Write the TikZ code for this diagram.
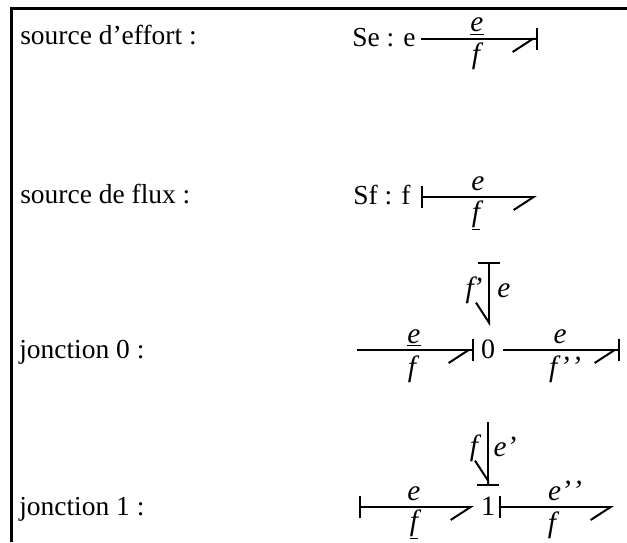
\documentclass[tikz,border=0pt]{standalone}
\usepackage{fontspec}
\setmainfont{Liberation Serif}
\usetikzlibrary{arrows.meta}
\tikzset{
  lbl/.style={anchor=base west,inner sep=0pt,font=\fontsize{20.6}{24}\selectfont},
  var/.style={anchor=base,inner sep=0pt,font=\fontsize{22}{24}\selectfont\itshape},
  jct/.style={anchor=base,inner sep=0pt,font=\fontsize{21}{24}\selectfont},
  bond/.style={line width=1.5pt},
  flowbar/.style={bond,{Bar[width=17pt,line width=1.5pt]}-{Straight Barb[right,length=15pt,width=19.5pt,line width=1.5pt]}},
  effbar/.style={bond,-{Straight Barb[right,length=15pt,width=19.5pt,line width=1.5pt]Bar[width=17pt,line width=1.5pt]}},
}
\begin{document}
\begin{tikzpicture}[x=0.75pt,y=-0.75pt]
  \useasboundingbox (0,0) rectangle (627,542);
  \coordinate (corner) at (11.5,8.5);
  \coordinate (top) at (627,8.5);
  \coordinate (bottom) at (11.5,542);
  \draw[line width=1.8pt] (bottom) -- (corner) -- (top);

  \node[lbl] (t1) at (20,45) {source d’effort :};
  \node[lbl] (t2) at (20,203) {source de flux :};
  \node[lbl] (t3) at (19,358) {jonction 0 :};
  \node[lbl] (t4) at (19,515) {jonction 1 :};

  % sources
  \node[lbl] (se) at (352,46) {Se : e};
  \coordinate (se1) at (421,39);
  \coordinate (se2) at (538,39);
  \draw[effbar] (se1) -- (se2);
  \node[var] (see) at (477,32) {\underline{e}};
  \node[var] (sef) at (476,64) {f};

  \node[lbl] (sf) at (353,204) {Sf : f};
  \coordinate (sf1) at (421,197);
  \coordinate (sf2) at (537,197);
  \draw[flowbar] (sf1) -- (sf2);
  \node[var] (sfe) at (478,190) {e};
  \node[var] (sff) at (476,221) {\underline{f}};

  % jonction 0
  \node[jct] (zero) at (488,358) {0};
  \coordinate (za) at (357,350);
  \coordinate (zb) at (474,350);
  \coordinate (zc) at (503,350);
  \coordinate (zd) at (620,350);
  \coordinate (ze) at (489,262);
  \coordinate (zf) at (489,326);
  \draw[effbar] (za) -- (zb);
  \draw[effbar] (zc) -- (zd);
  \draw[flowbar] (ze) -- (zf);
  \node[var] (z1) at (414,343) {\underline{e}};
  \node[var] (z2) at (412,376) {f};
  \node[var] (z3) at (560,343) {e};
  \node[var] (z4) at (565,376) {f’\kern1pt’};
  \node[var] (z5) at (474,297) {f\kern-1pt’};
  \node[var] (z6) at (504,297) {e};

  % jonction 1
  \node[jct] (one) at (488,515) {1};
  \coordinate (oa) at (359,507);
  \coordinate (ob) at (474,507);
  \coordinate (oc) at (499,507);
  \coordinate (od) at (614,507);
  \coordinate (oe) at (488,422);
  \coordinate (of) at (488,486);
  \draw[flowbar] (oa) -- (ob);
  \draw[flowbar] (oc) -- (od);
  \draw[effbar] (oe) -- (of);
  \node[var] (o1) at (414,500) {e};
  \node[var] (o2) at (414,530) {\underline{f}};
  \node[var] (o3) at (565,500) {e’\kern1pt’};
  \node[var] (o4) at (552,532) {f};
  \node[var] (o5) at (474,455) {f};
  \node[var] (o6) at (505,456) {e’};
\end{tikzpicture}
\end{document}
